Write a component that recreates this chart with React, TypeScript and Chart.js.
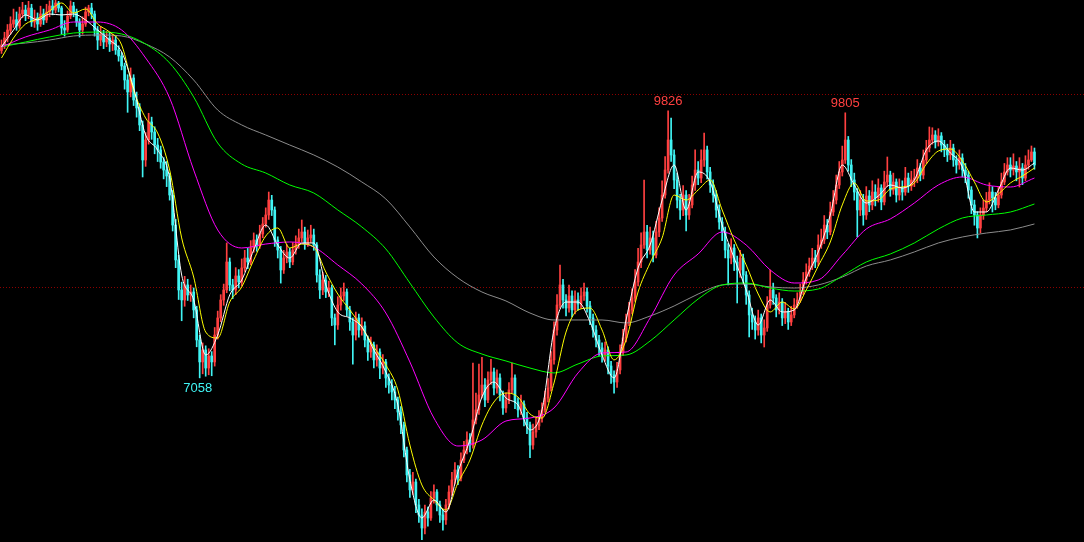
import React, { useEffect, useRef } from "react";
import { Chart, registerables } from "chart.js";

Chart.register(...registerables);

// ---- Candle data (one entry per trading period, left to right) ----
const opens = [
  10450,10500,10580,10660,10725,10770,10705,10830,10870,10820,
  10890,10746,10790,10725,10830,10767,10850,10912,10870,10943,
  10891,10684,10663,10808,10912,10850,10746,10663,10725,10850,
  10891,10829,10663,10559,10622,10539,10580,10518,10559,10456,
  10394,10290,10145,10021,10166,9938,9855,9679,9316,9523,
  9710,9606,9471,9420,9295,9212,9150,8953,8642,8280,
  7969,7865,8021,7917,7948,7762,7451,7223,7347,7160,
  7285,7223,7502,7679,7865,7969,8259,8021,7969,8114,
  8052,8197,8300,8259,8404,8487,8425,8549,8653,8746,
  8901,8798,8487,8383,8176,8300,8363,8259,8383,8445,
  8508,8570,8445,8508,8539,8435,8124,7969,8072,7948,
  7989,7679,7606,7813,7907,7948,7762,7637,7502,7679,
  7554,7596,7451,7326,7399,7244,7326,7160,7223,7057,
  6984,6912,6829,6704,6570,6311,6052,5897,5979,5741,
  5637,5502,5668,5606,5813,5875,5741,5637,5586,5741,
  5875,6000,6104,6020,6207,6311,6415,6362,6622,6726,
  6881,6984,6829,7036,7119,6953,7057,6881,6746,6829,
  6933,7057,6808,6726,6787,6642,6570,6362,6497,6559,
  6642,6726,6850,6953,7244,7554,7813,8021,7865,7782,
  7907,7762,7865,7824,7907,7948,7803,7679,7554,7451,
  7368,7295,7347,7181,7088,7015,7140,7326,7471,7637,
  7762,7886,8052,8259,8435,8570,8383,8508,8331,8570,
  8715,8953,9212,9523,9368,9109,8901,8798,8953,8746,
  8850,9057,9212,9129,9316,9420,9192,9057,8953,8798,
  8673,8570,8383,8300,8404,8259,8176,8300,8124,7917,
  7710,7637,7554,7679,7502,7575,7813,7969,7886,7762,
  7844,7679,7741,7637,7710,7813,7865,7948,8072,8155,
  8217,8300,8259,8435,8487,8642,8570,8777,8901,9057,
  9192,9316,9523,9264,9109,8984,8798,8901,8746,8943,
  8850,8984,8922,9026,8881,9088,9160,9005,9088,8953,
  9026,8984,9129,9046,9109,9129,9233,9160,9316,9440,
  9523,9575,9502,9565,9471,9420,9368,9440,9316,9264,
  9337,9212,9160,9005,8850,8746,8611,8746,8818,8901,
  8984,8922,8850,8953,9088,9192,9264,9212,9254,9192,
  9233,9129,9264,9316,9399,
];

const highs = [
  10560,10640,10720,10800,10880,10850,10900,10950,10920,10960,
  10930,10870,10840,10910,10880,10930,10965,10970,10974,10960,
  10910,10760,10860,10965,10950,10880,10780,10800,10900,10920,
  10940,10860,10700,10700,10660,10650,10640,10620,10600,10500,
  10430,10320,10200,10270,10200,10020,9900,9720,9600,9800,
  9760,9660,9540,9460,9340,9300,9180,9000,8700,8330,
  8050,8110,8080,8020,7990,7800,7500,7420,7390,7360,
  7330,7580,7750,7920,8030,8456,8300,8080,8200,8180,
  8290,8380,8400,8480,8560,8540,8640,8720,8820,8984,
  8950,8830,8520,8420,8380,8440,8400,8460,8530,8600,
  8694,8620,8590,8640,8600,8460,8180,8150,8120,8060,
  8020,7720,7900,7990,8041,7980,7800,7680,7740,7720,
  7680,7640,7490,7480,7430,7400,7360,7300,7250,7100,
  7040,6970,6860,6760,6600,6340,6110,6080,6010,5800,
  5700,5740,5720,5880,5950,5900,5780,5690,5800,5940,
  6080,6180,6150,6280,6400,6500,6480,7210,6900,7200,
  7270,7050,7120,7250,7160,7140,7100,6920,6900,7010,
  7210,7090,6850,6880,6820,6700,6600,6580,6640,6720,
  6800,6920,7050,7330,7640,7920,8228,8080,7920,8020,
  7960,7960,7940,7990,8040,7990,7850,7720,7600,7500,
  7420,7430,7380,7230,7130,7220,7400,7560,7720,7840,
  7980,8180,8400,8560,9109,8640,8620,8580,8680,8820,
  9100,9350,9826,9750,9420,9180,8960,9050,9000,8960,
  9150,9420,9300,9420,9596,9460,9240,9110,9000,8850,
  8720,8620,8450,8500,8440,8320,8380,8340,8160,7960,
  7780,7700,7760,7720,7660,7900,8176,8040,7920,7940,
  7880,7840,7780,7800,7880,7940,8030,8150,8240,8300,
  8400,8380,8540,8600,8740,8700,8880,9000,9160,9300,
  9460,9805,9560,9320,9180,9020,9000,8960,9040,9000,
  9100,9060,9120,9060,9200,9347,9200,9180,9120,9120,
  9100,9240,9180,9200,9220,9320,9280,9420,9520,9658,
  9650,9620,9640,9600,9520,9480,9520,9480,9360,9420,
  9380,9280,9200,9040,8900,8780,8820,8900,8980,9080,
  9040,8980,9040,9180,9280,9340,9340,9380,9300,9340,
  9280,9360,9420,9461,9440,
];

const lows = [
  10420,10470,10540,10620,10690,10660,10680,10790,10760,10780,
  10700,10690,10660,10700,10720,10740,10800,10820,10840,10850,
  10620,10600,10640,10780,10800,10700,10590,10620,10700,10810,
  10780,10600,10460,10500,10470,10490,10440,10450,10410,10340,
  10250,10050,9810,9970,9880,9760,9620,9140,9250,9480,
  9530,9380,9300,9230,9120,9040,8900,8580,8200,7870,
  7650,7800,7860,7850,7680,7380,7058,7100,7075,7090,
  7080,7180,7460,7640,7810,7940,7960,7880,7920,7990,
  8010,8160,8190,8230,8360,8370,8400,8510,8620,8700,
  8740,8420,8300,8040,8140,8250,8200,8230,8340,8400,
  8470,8390,8420,8460,8380,8050,7880,7920,7890,7900,
  7600,7400,7560,7760,7860,7700,7550,7200,7450,7480,
  7500,7380,7240,7270,7160,7180,7050,7100,6960,6900,
  6830,6740,6620,6480,6240,5980,5820,5850,5660,5560,
  5380,5440,5520,5580,5760,5680,5560,5480,5540,5700,
  5840,5960,5950,5990,6180,6270,6290,6330,6580,6680,
  6850,6760,6800,6990,6880,6900,6820,6680,6700,6790,
  6900,6740,6650,6680,6560,6480,6230,6320,6440,6520,
  6600,6700,6810,6920,7200,7500,7780,7780,7700,7740,
  7690,7720,7760,7780,7860,7740,7610,7480,7380,7290,
  7220,7230,7100,7000,6900,6960,7100,7290,7430,7600,
  7720,7850,8010,8200,8400,8300,8340,8260,8300,8520,
  8680,8920,9180,9300,9020,8820,8700,8740,8580,8700,
  8820,9000,9060,9080,9250,9120,8980,8880,8720,8600,
  8480,8300,8021,8240,8170,7834,8100,8040,7820,7482,
  7560,7460,7500,7420,7378,7540,7780,7820,7690,7720,
  7600,7620,7560,7600,7680,7780,7840,7920,8030,8110,
  8180,8200,8220,8400,8450,8500,8540,8740,8860,9020,
  9150,9280,9200,9040,8900,8518,8740,8640,8700,8780,
  8800,8840,8880,8800,8850,9040,8940,8960,8880,8900,
  8900,8950,8980,9000,9040,9080,9100,9120,9280,9400,
  9480,9440,9460,9400,9350,9300,9320,9250,9180,9220,
  9140,9080,8920,8760,8640,8508,8560,8700,8780,8860,
  8777,8800,8820,8920,9060,9160,9140,9160,9100,9036,
  9060,9100,9220,9300,9220,
];

const closes = [
  10508,10580,10663,10725,10767,10705,10829,10870,10819,10891,
  10746,10787,10725,10829,10767,10850,10912,10870,10943,10891,
  10684,10663,10808,10912,10850,10746,10663,10725,10850,10891,
  10829,10663,10559,10622,10539,10580,10518,10559,10456,10394,
  10290,10145,10021,10166,9938,9855,9679,9316,9523,9710,
  9606,9471,9420,9295,9212,9150,8953,8642,8280,7969,
  7865,8021,7917,7948,7762,7451,7223,7347,7160,7285,
  7223,7502,7679,7865,7969,8259,8021,7969,8114,8052,
  8197,8300,8259,8404,8487,8425,8549,8653,8746,8901,
  8798,8487,8383,8176,8300,8363,8259,8383,8445,8508,
  8570,8445,8508,8539,8435,8124,7969,8072,7948,7989,
  7679,7606,7813,7907,7948,7762,7637,7502,7679,7554,
  7596,7451,7326,7399,7244,7326,7160,7223,7057,6984,
  6912,6829,6704,6570,6311,6052,5897,5979,5741,5637,
  5502,5668,5606,5813,5875,5741,5637,5586,5741,5875,
  6000,6104,6020,6207,6311,6415,6362,6622,6726,6881,
  6984,6829,7036,7119,6953,7057,6881,6746,6829,6933,
  7057,6808,6726,6787,6642,6570,6362,6497,6559,6642,
  6726,6850,6953,7244,7554,7813,8021,7865,7782,7907,
  7762,7865,7824,7907,7948,7803,7679,7554,7451,7368,
  7295,7347,7181,7088,7015,7140,7326,7471,7637,7762,
  7886,8052,8259,8435,8570,8383,8508,8331,8570,8715,
  8953,9212,9523,9368,9109,8901,8798,8953,8746,8850,
  9057,9212,9129,9316,9420,9192,9057,8953,8798,8673,
  8570,8383,8300,8404,8259,8176,8300,8124,7917,7710,
  7637,7554,7679,7502,7575,7813,7969,7886,7762,7844,
  7679,7741,7637,7710,7813,7865,7948,8072,8155,8217,
  8300,8259,8435,8487,8642,8570,8777,8901,9057,9192,
  9316,9523,9264,9109,8984,8798,8901,8746,8943,8850,
  8984,8922,9026,8881,9088,9160,9005,9088,8953,9026,
  8984,9129,9046,9109,9129,9233,9160,9316,9440,9523,
  9575,9502,9565,9471,9420,9368,9440,9316,9264,9337,
  9212,9160,9005,8850,8746,8611,8746,8818,8901,8984,
  8922,8850,8953,9088,9192,9264,9212,9254,9192,9233,
  9129,9264,9316,9399,9264,
];

// ---- Moving averages (fast ones every 4 periods, slow ones every 8) ----
const fastStep = 4;
const slowStep = 8;

const maWhite = [
  10487,10663,10819,10767,10829,10819,10829,10767,10663,10559,
  10435,10062,9575,9420,9129,8124,7865,7295,7502,7917,
  8072,8383,8642,8435,8300,8456,8456,8021,7741,7679,
  7585,7347,7119,6777,6000,5606,5793,5668,6083,6415,
  6860,7015,6850,6777,6518,6726,7554,7844,7844,7637,
  7295,7057,7658,8197,8435,8901,9264,8798,9192,9088,
  8642,8300,7969,7606,7865,7741,7762,8093,8363,8746,
  9264,9057,8870,8943,9057,9026,9109,9420,9513,9388,
  9243,8777,8777,9005,9233,9212,9285,
];

const maYellow = [
  10373,10580,10725,10777,10860,10943,10839,10881,10725,10642,
  10508,10041,9751,9596,9212,8508,8103,7533,7471,7844,
  8000,8280,8528,8611,8404,8445,8414,8155,7927,7762,
  7585,7378,7192,6933,6362,5948,5793,5689,5969,6207,
  6570,6808,6901,6860,6684,6642,7005,7533,7762,7782,
  7554,7244,7451,7948,8249,8508,8953,8901,9005,9109,
  8798,8487,8228,7927,7741,7844,7772,7969,8217,8466,
  8850,9078,8891,8901,9015,9036,9078,9274,9409,9430,
  9306,9088,8881,8964,9078,9150,9233,
];

const maMagenta = [
  10487,10591,10663,10746,10746,10663,10373,9958,9212,8591,
  8404,8445,8466,8414,8228,8031,7730,7223,6642,6352,
  6415,6611,6642,6746,7109,7316,7326,7679,8124,8342,
  8570,8435,8176,8041,8072,8331,8601,8705,8870,9057,
  9140,9057,9036,9129,
];

const maGreen = [
  10487,10539,10591,10632,10642,10622,10518,10321,9969,9492,
  9274,9181,9057,8974,8798,8622,8394,8041,7689,7419,
  7305,7233,7160,7109,7202,7285,7295,7440,7658,7875,
  8021,8041,7989,7958,7979,8114,8259,8342,8456,8601,
  8715,8746,8777,8860,
];

const maGray = [
  10508,10528,10559,10601,10611,10601,10518,10383,10145,9834,
  9679,9575,9471,9368,9243,9088,8912,8622,8311,8093,
  7948,7855,7730,7658,7658,7658,7627,7699,7803,7927,
  8021,8031,8000,7989,8021,8103,8217,8280,8363,8456,
  8518,8559,8591,8653,
];

// ---- Axis / annotation values ----
const gridValues = [8000, 10000];
const priceMin = 5357;
const priceMax = 10974;
const emptySlotsRight = 16;
const extremes = [
  { index: 66, value: 7058, kind: "low" },
  { index: 222, value: 9826, kind: "high" },
  { index: 281, value: 9805, kind: "high" },
];

const UP = "#ff4040";
const DOWN = "#40f4f4";
const GRID = "#8c0000";

const categories = Array.from({ length: closes.length + emptySlotsRight }, (_, i) => String(i + 1));

function spread(values: number[], step: number): (number | null)[] {
  const out: (number | null)[] = new Array(closes.length).fill(null);
  values.forEach((v, k) => {
    if (k * step < closes.length) out[k * step] = v;
  });
  return out;
}

const gridPlugin = {
  id: "dottedGrid",
  beforeDatasetsDraw(chart: any) {
    const { ctx, chartArea, scales } = chart;
    ctx.save();
    ctx.strokeStyle = GRID;
    ctx.lineWidth = 1;
    ctx.setLineDash([1, 2]);
    gridValues.forEach((v) => {
      const y = Math.round(scales.y.getPixelForValue(v)) + 0.5;
      ctx.beginPath();
      ctx.moveTo(chartArea.left, y);
      ctx.lineTo(chartArea.right, y);
      ctx.stroke();
    });
    ctx.restore();
  },
};

const labelPlugin = {
  id: "extremeLabels",
  afterDatasetsDraw(chart: any) {
    const { ctx, scales } = chart;
    ctx.save();
    ctx.font = '13px "Liberation Sans", Arial, sans-serif';
    ctx.textAlign = "center";
    extremes.forEach((e) => {
      const x = scales.x.getPixelForValue(e.index);
      const y = scales.y.getPixelForValue(e.value);
      if (e.kind === "high") {
        ctx.fillStyle = UP;
        ctx.textBaseline = "bottom";
        ctx.fillText(String(e.value), x, y - 3);
      } else {
        ctx.fillStyle = DOWN;
        ctx.textBaseline = "top";
        ctx.fillText(String(e.value), x - 2, y + 4);
      }
    });
    ctx.restore();
  },
};

export default function App() {
  const canvasRef = useRef<HTMLCanvasElement | null>(null);

  useEffect(() => {
    document.body.style.margin = "0";
    document.body.style.background = "#000";
    const canvas = canvasRef.current;
    if (!canvas) return;

    const colors = closes.map((c, i) => (c >= opens[i] ? UP : DOWN));
    const bodies = closes.map((c, i) => [opens[i], c]);
    const wicks = closes.map((_, i) => [lows[i], highs[i]]);

    const lineDs = (data: (number | null)[], color: string, order: number) => ({
      type: "line" as const,
      data,
      borderColor: color,
      borderWidth: 1,
      pointRadius: 0,
      spanGaps: true,
      cubicInterpolationMode: "monotone" as const,
      order,
    });

    const chart = new Chart(canvas, {
      type: "bar",
      data: {
        labels: categories,
        datasets: [
          lineDs(spread(maWhite, fastStep), "#ffffff", 0),
          lineDs(spread(maYellow, fastStep), "#ffff00", 1),
          lineDs(spread(maMagenta, slowStep), "#ff00ff", 2),
          lineDs(spread(maGreen, slowStep), "#00ff00", 3),
          lineDs(spread(maGray, slowStep), "#8c8c8c", 4),
          {
            type: "bar" as const,
            data: bodies as any,
            backgroundColor: colors,
            barThickness: 2,
            grouped: false,
            borderWidth: 0,
            order: 5,
          },
          {
            type: "bar" as const,
            data: wicks as any,
            backgroundColor: colors,
            barThickness: 1,
            grouped: false,
            borderWidth: 0,
            order: 6,
          },
        ] as any,
      },
      options: {
        animation: false,
        responsive: false,
        devicePixelRatio: 1,
        layout: { padding: 0 },
        plugins: {
          legend: { display: false },
          tooltip: { enabled: false },
        },
        scales: {
          x: { type: "category", display: false, offset: true },
          y: { type: "linear", display: false, min: priceMin, max: priceMax },
        },
      },
      plugins: [gridPlugin, labelPlugin],
    });

    return () => chart.destroy();
  }, []);

  return (
    <div
      style={{
        position: "fixed",
        left: 0,
        top: 0,
        width: 1084,
        height: 542,
        background: "#000",
      }}
    >
      <canvas ref={canvasRef} width={1084} height={542} style={{ display: "block" }} />
    </div>
  );
}
